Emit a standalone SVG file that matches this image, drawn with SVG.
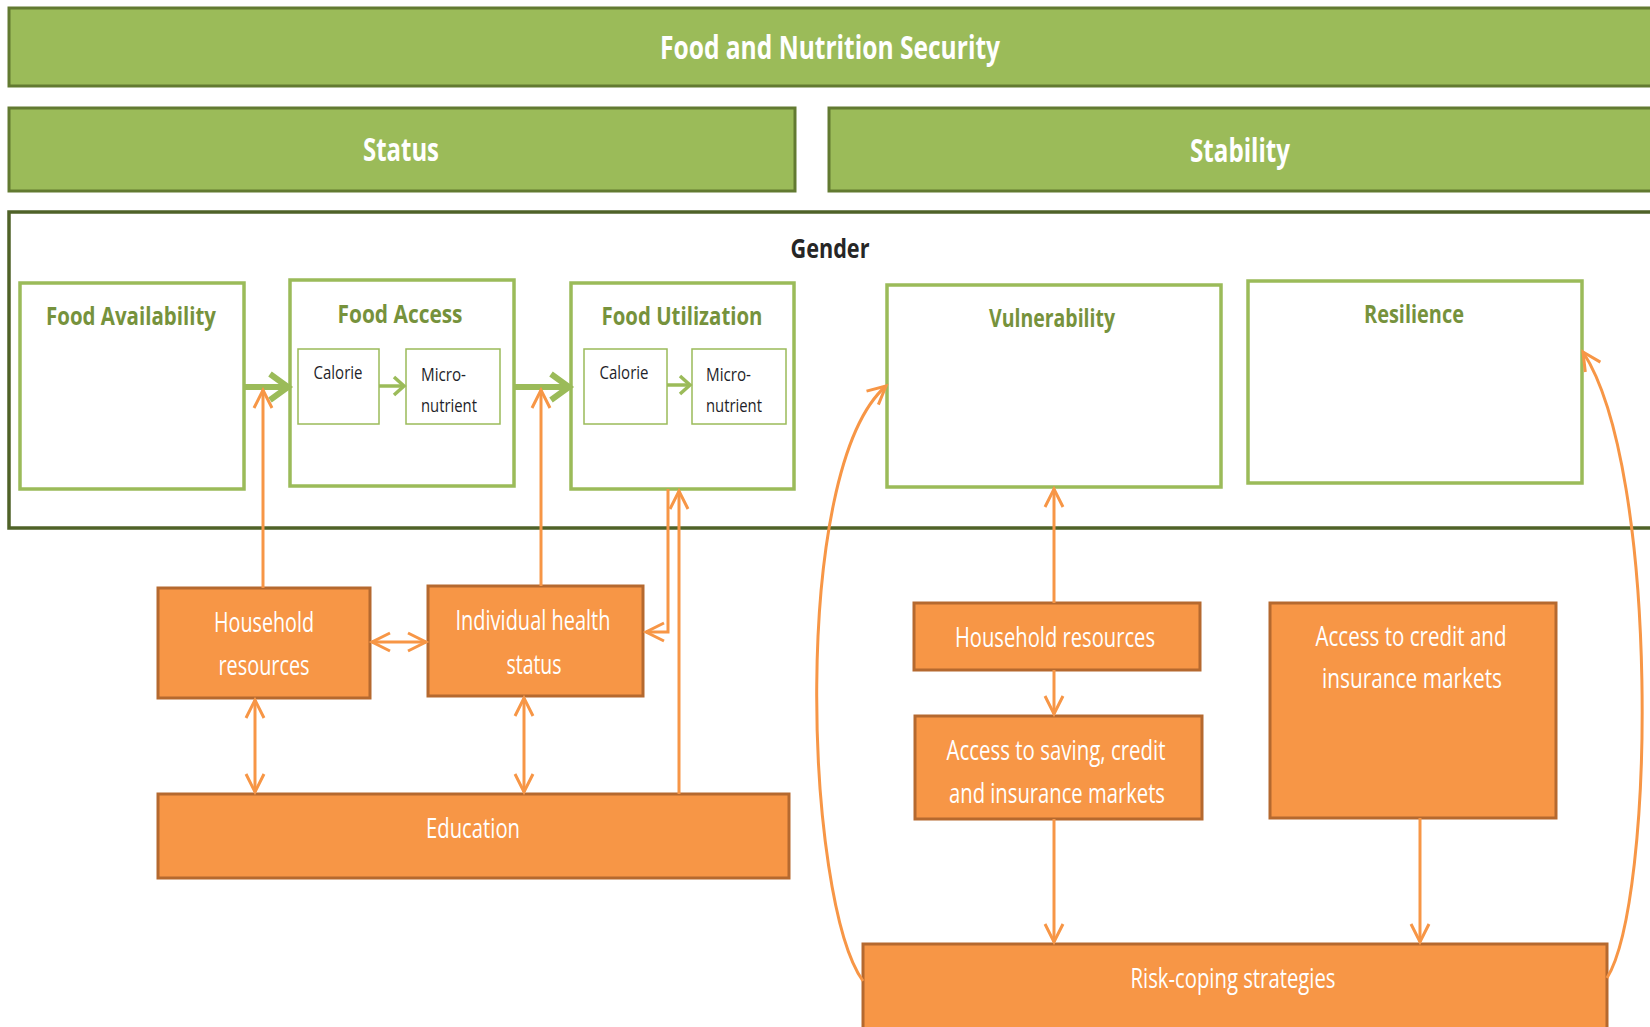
<svg xmlns="http://www.w3.org/2000/svg" width="1650" height="1027" viewBox="0 0 1650 1027">
  <style>
    .banner { fill: #9bbb59; stroke: #627a31; stroke-width: 3; }
    .frame { fill: #ffffff; stroke: #4f6228; stroke-width: 3.5; }
    .gbox { fill: #ffffff; stroke: #9bbb59; stroke-width: 3.5; }
    .sbox { fill: #ffffff; stroke: #9bbb59; stroke-width: 1.5; }
    .obox { fill: #f79646; stroke: #b5692f; stroke-width: 3; }
    .t-banner { font-family: "Open Sans", "Liberation Sans", sans-serif; font-weight: bold; font-size: 32px; fill: #ffffff; text-anchor: middle; }
    .t-gender { font-family: "Open Sans", "Liberation Sans", sans-serif; font-weight: bold; font-size: 27px; fill: #262626; text-anchor: middle; }
    .t-green { font-family: "Open Sans", "Liberation Sans", sans-serif; font-weight: bold; font-size: 25px; fill: #76923c; text-anchor: middle; }
    .t-small { font-family: "Open Sans", "Liberation Sans", sans-serif; font-size: 18px; fill: #1f1f2a; }
    .t-orange { font-family: "Open Sans", "Liberation Sans", sans-serif; font-size: 27px; fill: #ffffff; text-anchor: middle; }
    .c-green { fill: none; stroke: #9bbb59; stroke-width: 6; }
    .c-green-s { fill: none; stroke: #9bbb59; stroke-width: 3.5; }
    .c-orange { fill: none; stroke: #f79646; stroke-width: 3; }
  </style>
  <defs>
    <marker id="head-green" markerUnits="userSpaceOnUse" markerWidth="30" markerHeight="34" refX="24" refY="17" orient="auto">
      <path d="M6,4 L24,17 L6,30" fill="none" stroke="#9bbb59" stroke-width="6"/>
    </marker>
    <marker id="head-green-s" markerUnits="userSpaceOnUse" markerWidth="20" markerHeight="24" refX="15" refY="12" orient="auto">
      <path d="M5,3 L15,12 L5,21" fill="none" stroke="#9bbb59" stroke-width="3.5"/>
    </marker>
    <marker id="head-orange" markerUnits="userSpaceOnUse" markerWidth="26" markerHeight="24" refX="21" refY="12" orient="auto-start-reverse">
      <path d="M3,3 L21,12 L3,21" fill="none" stroke="#f79646" stroke-width="3"/>
    </marker>
  </defs>

  <!-- headline bands -->
  <g id="food-nutrition-security">
    <rect class="banner" x="9" y="8" width="1650" height="78"/>
    <text class="t-banner" x="830" y="59" textLength="340" lengthAdjust="spacingAndGlyphs">Food and Nutrition Security</text>
  </g>
  <g id="status">
    <rect class="banner" x="9" y="108" width="786" height="83"/>
    <text class="t-banner" x="401" y="161" textLength="76" lengthAdjust="spacingAndGlyphs">Status</text>
  </g>
  <g id="stability">
    <rect class="banner" x="829" y="108" width="830" height="83"/>
    <text class="t-banner" x="1240" y="162" textLength="100" lengthAdjust="spacingAndGlyphs">Stability</text>
  </g>

  <!-- gender frame -->
  <g id="gender">
    <rect class="frame" x="9" y="212" width="1648" height="316"/>
    <text class="t-gender" x="830" y="258" textLength="79" lengthAdjust="spacingAndGlyphs">Gender</text>
  </g>

  <!-- status dimensions -->
  <g id="food-availability">
    <rect class="gbox" x="20" y="283" width="224" height="206"/>
    <text class="t-green" x="131" y="325" textLength="170" lengthAdjust="spacingAndGlyphs">Food Availability</text>
  </g>
  <g id="food-access">
    <rect class="gbox" x="290" y="280" width="224" height="206"/>
    <text class="t-green" x="400" y="323" textLength="125" lengthAdjust="spacingAndGlyphs">Food Access</text>
  </g>
  <g id="access-calorie">
    <rect class="sbox" x="298" y="349" width="81" height="75"/>
    <text class="t-small" x="338" y="379" text-anchor="middle" textLength="49" lengthAdjust="spacingAndGlyphs">Calorie</text>
  </g>
  <g id="access-micronutrient">
    <rect class="sbox" x="406" y="349" width="94" height="75"/>
    <text class="t-small" x="421" y="381" textLength="45" lengthAdjust="spacingAndGlyphs">Micro-</text>
    <text class="t-small" x="421" y="412" textLength="56" lengthAdjust="spacingAndGlyphs">nutrient</text>
  </g>
  <g id="food-utilization">
    <rect class="gbox" x="571" y="283" width="223" height="206"/>
    <text class="t-green" x="682" y="325" textLength="161" lengthAdjust="spacingAndGlyphs">Food Utilization</text>
  </g>
  <g id="utilization-calorie">
    <rect class="sbox" x="584" y="349" width="83" height="75"/>
    <text class="t-small" x="624" y="379" text-anchor="middle" textLength="49" lengthAdjust="spacingAndGlyphs">Calorie</text>
  </g>
  <g id="utilization-micronutrient">
    <rect class="sbox" x="692" y="349" width="94" height="75"/>
    <text class="t-small" x="706" y="381" textLength="45" lengthAdjust="spacingAndGlyphs">Micro-</text>
    <text class="t-small" x="706" y="412" textLength="56" lengthAdjust="spacingAndGlyphs">nutrient</text>
  </g>

  <!-- stability dimensions -->
  <g id="vulnerability">
    <rect class="gbox" x="887" y="285" width="334" height="202"/>
    <text class="t-green" x="1052" y="327" textLength="126" lengthAdjust="spacingAndGlyphs">Vulnerability</text>
  </g>
  <g id="resilience">
    <rect class="gbox" x="1248" y="281" width="334" height="202"/>
    <text class="t-green" x="1414" y="323" textLength="100" lengthAdjust="spacingAndGlyphs">Resilience</text>
  </g>

  <!-- determinants, status side -->
  <g id="household-resources-status">
    <rect class="obox" x="158" y="588" width="212" height="110"/>
    <text class="t-orange" x="264" y="632" textLength="100" lengthAdjust="spacingAndGlyphs">Household</text>
    <text class="t-orange" x="264" y="675" textLength="91" lengthAdjust="spacingAndGlyphs">resources</text>
  </g>
  <g id="individual-health-status">
    <rect class="obox" x="428" y="586" width="215" height="110"/>
    <text class="t-orange" x="533" y="630" textLength="155" lengthAdjust="spacingAndGlyphs">Individual health</text>
    <text class="t-orange" x="534" y="674" textLength="55" lengthAdjust="spacingAndGlyphs">status</text>
  </g>
  <g id="education">
    <rect class="obox" x="158" y="794" width="631" height="84"/>
    <text class="t-orange" x="473" y="838" textLength="94" lengthAdjust="spacingAndGlyphs">Education</text>
  </g>

  <!-- determinants, stability side -->
  <g id="household-resources-stability">
    <rect class="obox" x="914" y="603" width="286" height="67"/>
    <text class="t-orange" x="1055" y="647" textLength="200" lengthAdjust="spacingAndGlyphs">Household resources</text>
  </g>
  <g id="access-saving-credit-insurance">
    <rect class="obox" x="915" y="716" width="287" height="103"/>
    <text class="t-orange" x="1056" y="760" textLength="219" lengthAdjust="spacingAndGlyphs">Access to saving, credit</text>
    <text class="t-orange" x="1057" y="803" textLength="216" lengthAdjust="spacingAndGlyphs">and insurance markets</text>
  </g>
  <g id="access-credit-insurance">
    <rect class="obox" x="1270" y="603" width="286" height="215"/>
    <text class="t-orange" x="1411" y="646" textLength="191" lengthAdjust="spacingAndGlyphs">Access to credit and</text>
    <text class="t-orange" x="1412" y="688" textLength="180" lengthAdjust="spacingAndGlyphs">insurance markets</text>
  </g>
  <g id="risk-coping-strategies">
    <rect class="obox" x="863" y="944" width="744" height="95"/>
    <text class="t-orange" x="1233" y="988" textLength="205" lengthAdjust="spacingAndGlyphs">Risk-coping strategies</text>
  </g>

  <!-- connectors -->
  <g id="connectors">
    <path class="c-green" d="M244,387 H288" marker-end="url(#head-green)"/>
    <path class="c-green" d="M514,387 H569" marker-end="url(#head-green)"/>
    <path class="c-green-s" d="M379,386 H404" marker-end="url(#head-green-s)"/>
    <path class="c-green-s" d="M667,385 H690" marker-end="url(#head-green-s)"/>

    <path class="c-orange" d="M263,588 V390" marker-end="url(#head-orange)"/>
    <path class="c-orange" d="M541,586 V390" marker-end="url(#head-orange)"/>
    <path class="c-orange" d="M668,489 V632 H646" marker-end="url(#head-orange)"/>
    <path class="c-orange" d="M679,794 V491" marker-end="url(#head-orange)"/>
    <path class="c-orange" d="M372,642 H426" marker-start="url(#head-orange)" marker-end="url(#head-orange)"/>
    <path class="c-orange" d="M255,700 V792" marker-start="url(#head-orange)" marker-end="url(#head-orange)"/>
    <path class="c-orange" d="M524,698 V792" marker-start="url(#head-orange)" marker-end="url(#head-orange)"/>

    <path class="c-orange" d="M1054,603 V489" marker-end="url(#head-orange)"/>
    <path class="c-orange" d="M1054,670 V714" marker-end="url(#head-orange)"/>
    <path class="c-orange" d="M1054,819 V942" marker-end="url(#head-orange)"/>
    <path class="c-orange" d="M1420,818 V942" marker-end="url(#head-orange)"/>

    <path class="c-orange" d="M863,981 C805,900 790,470 886,386" marker-end="url(#head-orange)"/>
    <path class="c-orange" d="M1607,978 C1655,900 1660,470 1583,352" marker-end="url(#head-orange)"/>
  </g>
</svg>
